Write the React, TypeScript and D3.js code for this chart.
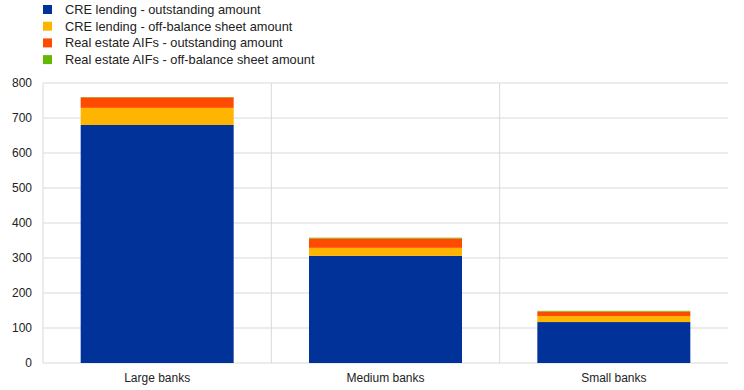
import React from "react";
import * as d3 from "d3";

const categories = ["Large banks", "Medium banks", "Small banks"];
const seriesNames = [
  "CRE lending - outstanding amount",
  "CRE lending - off-balance sheet amount",
  "Real estate AIFs - outstanding amount",
  "Real estate AIFs - off-balance sheet amount",
];
const creOutstanding = [680, 306, 117];
const creOffBalance = [49, 23, 17];
const aifOutstanding = [30, 27, 13];
const aifOffBalance = [1, 2, 2];
const yTicks = [0, 100, 200, 300, 400, 500, 600, 700, 800];
const colors = ["#003299", "#FFB400", "#FF4B00", "#65B800"];

export default function App() {
  const W = 744, H = 390;
  const left = 43, right = 728, top = 83, bottom = 363;
  const x = d3.scaleBand().domain(categories).range([left, right]).paddingInner(0).paddingOuter(0);
  const y = d3.scaleLinear().domain([0, 800]).range([bottom, top]);
  const values = [creOutstanding, creOffBalance, aifOutstanding, aifOffBalance];
  const rows = categories.map((c, i) => {
    const r: any = { cat: c };
    seriesNames.forEach((s, k) => (r[s] = values[k][i]));
    return r;
  });
  const stacked = d3.stack().keys(seriesNames)(rows);
  const bw = x.bandwidth();
  const barW = bw * 0.67;
  const font = "Arial, 'Liberation Sans', sans-serif";
  return (
    <svg width={W} height={H} style={{ position: "absolute", left: 0, top: 0, background: "#fff" }} fontFamily={font}>
      {yTicks.map((t) => (
        <g key={t}>
          <line x1={left} x2={right} y1={y(t)} y2={y(t)} stroke="#d9d9d9" strokeWidth={1} />
          <text x={32} y={y(t) + 4} textAnchor="end" fontSize={12} fill="#222">{t}</text>
        </g>
      ))}
      <line x1={left} x2={left} y1={top} y2={bottom} stroke="#d9d9d9" />
      {categories.slice(1).map((c) => (
        <line key={c} x1={x(c)!} x2={x(c)!} y1={top} y2={bottom} stroke="#d9d9d9" />
      ))}
      {stacked.map((s, k) => (
        <g key={k} fill={colors[k]}>
          {s.map((d, i) => (
            <rect key={i} x={x(categories[i])! + (bw - barW) / 2} width={barW} y={y(d[1])} height={y(d[0]) - y(d[1])} />
          ))}
        </g>
      ))}
      {categories.map((c) => (
        <text key={c} x={x(c)! + bw / 2} y={382} textAnchor="middle" fontSize={12} fill="#222">{c}</text>
      ))}
      {seriesNames.map((s, k) => (
        <g key={s}>
          <rect x={43} y={5 + k * 16.7} width={9} height={9} fill={colors[k]} />
          <text x={65} y={14 + k * 16.7} fontSize={12.8} fill="#222">{s}</text>
        </g>
      ))}
    </svg>
  );
}
